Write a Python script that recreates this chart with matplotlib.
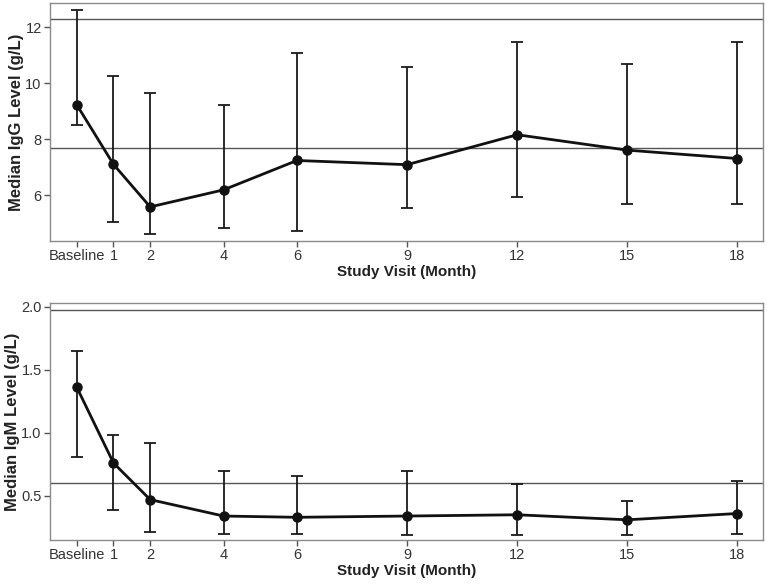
import matplotlib.pyplot as plt

plt.rcParams['font.family'] = ['Liberation Sans', 'DejaVu Sans']

# visit months (0 = baseline)
months = [0, 1, 2, 4, 6, 9, 12, 15, 18]
tick_labels = ['Baseline', '1', '2', '4', '6', '9', '12', '15', '18']

# IgG (g/L): median, upper and lower whisker values
igg_med = [9.23, 7.10, 5.58, 6.19, 7.24, 7.09, 8.16, 7.61, 7.31]
igg_hi = [12.62, 10.27, 9.66, 9.24, 11.07, 10.60, 11.46, 10.70, 11.49]
igg_lo = [8.51, 5.04, 4.62, 4.82, 4.71, 5.54, 5.93, 5.69, 5.69]
igg_refs = [12.3, 7.67]

# IgM (g/L)
igm_med = [1.36, 0.76, 0.47, 0.34, 0.33, 0.34, 0.35, 0.31, 0.36]
igm_hi = [1.65, 0.98, 0.92, 0.70, 0.66, 0.70, 0.59, 0.46, 0.62]
igm_lo = [0.81, 0.39, 0.21, 0.20, 0.20, 0.19, 0.19, 0.19, 0.20]
igm_refs = [1.97, 0.60]

fig = plt.figure(figsize=(7.67, 5.85), dpi=100)
ax1 = fig.add_axes([0.0652, 0.588, 0.9296, 0.4068])
ax2 = fig.add_axes([0.0652, 0.0769, 0.9296, 0.4056])


def panel(ax, med, hi, lo, refs, ylim, yticks, yfmt, ylabel):
    for r in refs:
        ax.axhline(r, color='#555555', lw=1.0, zorder=1)
    yerr = [[m - l for m, l in zip(med, lo)], [h - m for m, h in zip(med, hi)]]
    ax.errorbar(months, med, yerr=yerr, fmt='none', ecolor='#1a1a1a',
                elinewidth=1.3, capsize=4, capthick=1.3, zorder=2)
    ax.plot(months, med, color='#111111', lw=2.0, marker='o', ms=6.5, zorder=3)
    ax.set_xlim(-0.73, 18.7)
    ax.set_ylim(*ylim)
    ax.set_xticks(months)
    ax.set_xticklabels(tick_labels, fontsize=10.5, color='#333333')
    ax.set_yticks(yticks)
    ax.set_yticklabels([yfmt.format(v) for v in yticks], fontsize=10.5, color='#333333')
    ax.set_xlabel('Study Visit (Month)', fontsize=11, fontweight='bold', labelpad=1,
                  color='#222222')
    ax.set_ylabel(ylabel, fontsize=12, fontweight='bold', labelpad=1, color='#222222')
    for s in ax.spines.values():
        s.set_color('#8a8a8a')
        s.set_linewidth(1.0)
    ax.tick_params(direction='out', length=4, width=1, color='#555555', pad=2)


panel(ax1, igg_med, igg_hi, igg_lo, igg_refs, (4.36, 12.87), [6, 8, 10, 12],
      '{:.0f}', 'Median IgG Level (g/L)')
panel(ax2, igm_med, igm_hi, igm_lo, igm_refs, (0.15, 2.03), [0.5, 1.0, 1.5, 2.0],
      '{:.1f}', 'Median IgM Level (g/L)')

fig.savefig('out.png', dpi=100)
